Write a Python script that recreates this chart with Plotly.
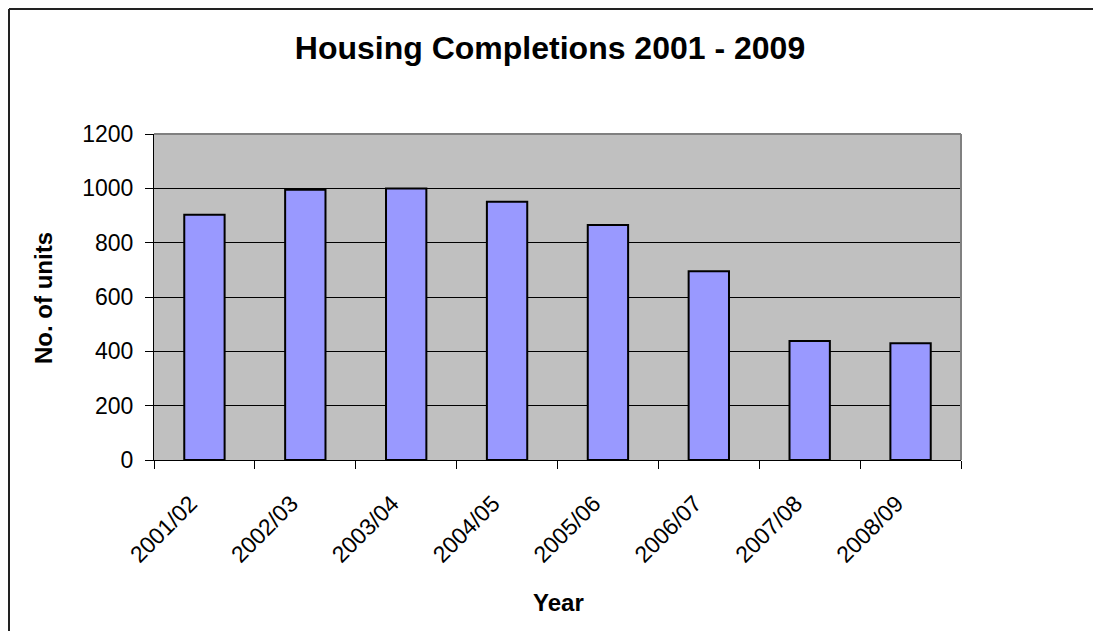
import plotly.graph_objects as go

years = ["2001/02", "2002/03", "2003/04", "2004/05", "2005/06", "2006/07", "2007/08", "2008/09"]
units = [903, 995, 999, 951, 865, 695, 438, 430]
y_ticks = [0, 200, 400, 600, 800, 1000, 1200]

OFF = 8  # default page body margin
W, H = 1101 - 2 * OFF, 639 - 2 * OFF
L, R, T, B = 154 - OFF, 961 - OFF, 134 - OFF, 460 - OFF

def px(x):
    return (x - OFF - L) / (R - L)

def py(y):
    return (B - (y - OFF)) / (B - T)

fig = go.Figure()
fig.add_trace(go.Bar(
    x=years, y=units,
    marker=dict(color="#9999FF", line=dict(color="#000000", width=2)),
    hoverinfo="x+y",
))

font = "Liberation Sans, Arial, sans-serif"

fig.update_layout(
    width=W, height=H,
    margin=dict(l=L, r=W - R, t=T, b=H - B, pad=0),
    paper_bgcolor="#FFFFFF",
    plot_bgcolor="#C0C0C0",
    bargap=0.6,
    showlegend=False,
    font=dict(family=font, color="#000000"),
    title=dict(text="<b>Housing Completions 2001 - 2009</b>", x=(550 - OFF) / W, xanchor="center",
               y=1 - (48 - OFF) / H, yanchor="middle", font=dict(size=32, family=font, color="#000000")),
    xaxis=dict(
        type="category", tickson="boundaries", ticks="outside", ticklen=8, tickwidth=1,
        tickcolor="#000000", showline=True, linecolor="#000000", linewidth=1,
        showgrid=False, tickangle=-45, tickfont=dict(size=23, family=font, color="#000000"),
        ticklabelstandoff=20, ticklabelshift=-14,
    ),
    yaxis=dict(
        range=[0, 1200], tickvals=y_ticks, ticks="outside", ticklen=8, tickwidth=1,
        tickcolor="#000000", showline=True, linecolor="#000000", linewidth=1,
        showgrid=True, gridcolor="#000000", gridwidth=1, zeroline=False,
        tickfont=dict(size=23, family=font, color="#000000"),
        ticklabelstandoff=7,
    ),
    shapes=[
        dict(type="line", xref="paper", yref="paper", x0=0, x1=1, y0=1, y1=1,
             line=dict(color="#808080", width=2), layer="above"),
        dict(type="line", xref="paper", yref="paper", x0=1, x1=1, y0=0, y1=1,
             line=dict(color="#808080", width=2), layer="above"),
        dict(type="line", xref="paper", yref="paper", x0=px(9), x1=px(1200), y0=py(9), y1=py(9),
             line=dict(color="#222222", width=2), layer="above"),
        dict(type="line", xref="paper", yref="paper", x0=px(9), x1=px(9), y0=py(9), y1=py(800),
             line=dict(color="#222222", width=2), layer="above"),
    ],
    annotations=[
        dict(text="<b>No. of units</b>", xref="paper", yref="paper", x=px(43), y=py(298),
             xanchor="center", yanchor="middle", textangle=-90, showarrow=False,
             font=dict(size=24, family=font, color="#000000")),
        dict(text="<b>Year</b>", xref="paper", yref="paper", x=px(558), y=py(602),
             xanchor="center", yanchor="middle", showarrow=False,
             font=dict(size=24, family=font, color="#000000")),
    ],
)

fig.write_html("out.html")
